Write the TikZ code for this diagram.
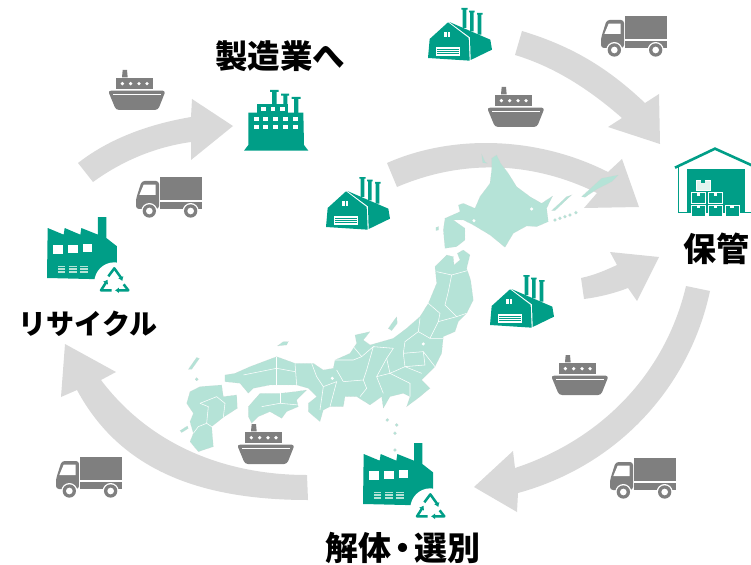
\documentclass[tikz,border=0pt]{standalone}
\usepackage{fontspec}
\usepackage{tikz}
\usetikzlibrary{arrows.meta}
\newfontfamily\jpfont{Noto Sans CJK JP}
\definecolor{iconteal}{HTML}{009E87}
\definecolor{icongrey}{HTML}{7F7F7F}
\definecolor{arrowgrey}{HTML}{D9D9D9}
\definecolor{mapgreen}{HTML}{B5E3D7}
\newcommand\labelfont[1]{\jpfont\bfseries\fontsize{#1}{#1}\selectfont}
\tikzstyle{zoomunit}=[x=0.3333pt,y=-0.3333pt]
\tikzstyle{bigarrow}=[fill=arrowgrey]
\tikzstyle{jplabel}=[inner sep=0pt,text=black]
\tikzstyle{teal}=[fill=iconteal]
\tikzstyle{grey}=[fill=icongrey]
\tikzstyle{hole}=[fill=white]
\tikzstyle{land}=[fill=mapgreen,draw=black!18,line width=0.35pt,densely dotted]
\tikzstyle{border}=[draw=white,line width=0.55pt]
\tikzstyle{recycleline}=[draw=iconteal,line width=2.5pt,line join=round]
\tikzstyle{crate}=[draw=white,fill=iconteal,line width=0.6pt]

\newcommand\drawtruck[2]{
	\begin{scope}[shift={(#1,#2)},zoomunit]
		\fill[grey] (72,0) rectangle (198,70);
		\fill[grey] (72,76) rectangle (198,96);
		\fill[grey,rounded corners=3pt] (0,96) -- (0,66) -- (17,12) -- (69,12) -- (69,96) -- cycle;
		\fill[hole] (23,23) -- (59,23) -- (59,54) -- (10,54) -- cycle;
		\foreach \wheelx in {40,164} {
			\fill[hole] (\wheelx,102) circle (24);
			\fill[grey] (\wheelx,102) circle (20);
			\fill[hole] (\wheelx,102) circle (10);
		}
	\end{scope}
}
\newcommand\drawship[2]{
	\begin{scope}[shift={(#1,#2)},zoomunit]
		\fill[grey] (42,22) -- (44,0) -- (57,0) -- (59,22) -- cycle;
		\fill[grey] (23,24) rectangle (136,56);
		\foreach \portx in {43,68,93,117} {
			\fill[hole] (\portx,41) circle (5.5);
		}
		\fill[grey,rounded corners=3pt] (0,62) -- (173,62) -- (150,120) -- (24,120) -- cycle;
		\fill[hole] (15,71) rectangle (158,74);
	\end{scope}
}
\newcommand\drawhangar[2]{
	\begin{scope}[shift={(#1,#2)},zoomunit]
		\fill[teal] (100,0) -- (119,0) -- (119,5) -- (115,5) -- (115,60) -- (104,60) -- (104,5) -- (100,5) -- cycle;
		\fill[teal] (123,8) -- (140,8) -- (140,13) -- (137,13) -- (137,70) -- (126,70) -- (126,13) -- (123,13) -- cycle;
		\fill[teal] (147,15) -- (164,15) -- (164,20) -- (160,20) -- (160,80) -- (149,80) -- (149,20) -- (147,20) -- cycle;
		\fill[teal] (64,42) -- (187,95) -- (192,125) -- (128,156) -- (126,88) -- cycle;
		\fill[teal] (0,150) -- (5,93) -- (60,43) -- (122,90) -- (125,158) -- cycle;
		\fill[hole] (49,72) rectangle (56,88);
		\fill[hole] (60,72) rectangle (67,88);
		\fill[hole] (25,118) rectangle (95,143);
		\foreach \slaty in {124,130,136} {
			\fill[teal] (27,\slaty) rectangle (93,\slaty+2);
		}
	\end{scope}
}
\newcommand\drawplant[2]{
	\begin{scope}[shift={(#1,#2)},zoomunit]
		\fill[teal] (78,0) -- (104,0) -- (104,6) -- (98,6) -- (98,45) -- (84,45) -- (84,6) -- (78,6) -- cycle;
		\fill[teal] (111,11) -- (135,11) -- (135,17) -- (130,17) -- (130,70) -- (118,70) -- (118,17) -- (111,17) -- cycle;
		\fill[teal] (143,21) -- (170,21) -- (170,27) -- (163,27) -- (163,70) -- (150,70) -- (150,27) -- (143,27) -- cycle;
		\fill[teal] (38,70) -- (38,42) -- (133,42) -- (133,70) -- cycle;
		\fill[teal] (13,68) -- (178,68) -- (180,165) -- (193,182) -- (0,182) -- (13,165) -- cycle;
		\foreach \winx in {30,58,88,118,148} {
			\fill[hole] (\winx,81) rectangle +(14,12);
			\fill[hole] (\winx,105) rectangle +(14,13);
		}
		\foreach \winx in {51,80,108} {
			\fill[hole] (\winx,51) rectangle +(14,12);
		}
	\end{scope}
}
\newcommand\drawsawtooth[2]{
	\begin{scope}[shift={(#1,#2)},zoomunit]
		\fill[teal] (2,33) -- (50,53) -- (53,33) -- (100,53) -- (103,33) -- (153,53) -- (153,0) -- (178,0) -- (178,63) -- (210,88) -- (210,188) -- (0,183) -- cycle;
		\fill[hole] (18,85) rectangle (47,110);
		\fill[hole] (63,83) rectangle (92,108);
		\fill[hole] (107,81) rectangle (136,106);
		\foreach \ventx in {32,66,100} {
			\foreach \venty in {146,154,162} {
				\fill[mapgreen] (\ventx,\venty) rectangle +(23,5);
			}
		}
		\begin{scope}[shift={(202,196)}]
			\fill[hole] (0,0) circle (60);
			\draw[recycleline,-{Latex[length=4pt,width=6pt]}] (-8,24) -- (-40,24) -- (-26,2) -- (-20,-8);
			\draw[recycleline,-{Latex[length=4pt,width=6pt]}] (-18,-18) -- (0,-42) -- (20,-14) -- (24,-4);
			\draw[recycleline,-{Latex[length=4pt,width=6pt]}] (28,6) -- (42,24) -- (18,24) -- (2,24);
		\end{scope}
	\end{scope}
}
\newcommand\drawstorage[2]{
	\begin{scope}[shift={(#1,#2)},zoomunit]
		\draw[iconteal,line width=0.6pt] (25,80) -- (25,216) -- (243,216) -- (243,70);
		\fill[teal] (50,88) rectangle (225,216);
		\draw[iconteal,line width=2.6pt,line join=miter] (15,83) -- (135,26) -- (250,78);
		\draw[crate,fill=mapgreen!40] (78,120) rectangle (122,152);
		\fill[teal] (94,120) rectangle (106,130);
		\foreach \cratex/\cratey in {65/158,115/158,65/195,115/195,165/195} {
			\draw[crate] (\cratex,\cratey) rectangle +(42,33);
			\fill[hole] (\cratex+16,\cratey) rectangle +(10,9);
		}
	\end{scope}
}

\begin{document}
\begin{tikzpicture}[x=1pt,y=-1pt]
	\useasboundingbox (0,0) rectangle (751,564);

	\fill[bigarrow] (78,163) .. controls (110,138) and (150,124) .. (191,117) -- (192,99) -- (233,126) -- (191,160) -- (191,142) .. controls (155,147) and (122,161) .. (93,182) -- cycle;
	\fill[bigarrow] (522,31) .. controls (575,47) and (610,70) .. (645,103) -- (659,94) -- (660,144) -- (608,127) -- (622,118) .. controls (590,90) and (555,67) .. (515,55) -- cycle;
	\fill[bigarrow] (387,163) .. controls (450,135) and (535,135) .. (608,172) -- (622,159) -- (639,207) -- (584,208) -- (597,193) .. controls (530,160) and (460,160) .. (397,187) -- cycle;
	\fill[bigarrow] (581,278) .. controls (595,275) and (606,270) .. (617,265) -- (610,252) -- (659,257) -- (637,301) -- (628,288) .. controls (615,293) and (600,297) .. (584,299) -- cycle;
	\fill[bigarrow] (686,286) .. controls (665,375) and (600,440) .. (515,468) -- (513,451) -- (474,487) -- (517,512) -- (518,493) .. controls (620,465) and (690,385) .. (710,291) -- cycle;
	\fill[bigarrow] (308,500) .. controls (200,500) and (120,470) .. (77,390) -- (61,397) -- (65,344) -- (116,372) -- (101,380) .. controls (150,445) and (225,475) .. (307,475) -- cycle;

	\begin{scope}[shift={(180,140)},zoomunit]
		\draw[land] (935,55) -- (950,45) -- (962,70) -- (985,100) -- (1010,140) -- (1050,170) -- (1085,190) -- (1118,168) -- (1100,205) -- (1105,245) -- (1070,260) -- (1040,258) -- (1000,280) -- (975,322) -- (930,285) -- (880,255) -- (850,240) -- (820,240) -- (855,265) -- (855,300) -- (830,320) -- (795,325) -- (790,270) -- (795,235) -- (840,215) -- (835,195) -- (850,190) -- (885,205) -- (900,170) -- (930,130) -- (935,90) -- cycle;
		\draw[land] (1115,212) -- (1160,170) -- (1175,165) -- (1125,212) -- cycle;
		\draw[land] (1205,170) -- (1265,115) -- (1315,105) -- (1295,125) -- (1250,148) -- (1215,172) -- cycle;
		\draw[land] (800,345) -- (820,350) -- (822,375) -- (840,360) -- (832,340) -- (850,330) -- (870,345) -- (860,385) -- (872,420) -- (880,480) -- (860,520) -- (835,545) -- (825,575) -- (790,590) -- (785,640) -- (765,680) -- (725,720) -- (750,745) -- (720,770) -- (680,800) -- (690,770) -- (670,760) -- (630,770) -- (610,805) -- (605,770) -- (570,795) -- (530,770) -- (495,770) -- (490,800) -- (450,800) -- (430,810) -- (420,845) -- (385,815) -- (385,790) -- (410,770) -- (385,745) -- (350,735) -- (310,735) -- (270,735) -- (220,745) -- (205,760) -- (180,730) -- (135,725) -- (135,705) -- (165,700) -- (210,680) -- (290,650) -- (345,670) -- (400,670) -- (430,690) -- (460,685) -- (465,660) -- (510,640) -- (530,610) -- (525,585) -- (570,575) -- (550,600) -- (570,615) -- (640,595) -- (680,565) -- (720,530) -- (745,490) -- (770,430) -- (765,380) -- cycle;
		\draw[land] (205,800) -- (240,760) -- (300,760) -- (345,755) -- (380,750) -- (350,780) -- (355,800) -- (320,815) -- (305,835) -- (270,815) -- (235,830) -- (215,850) -- (205,830) -- cycle;
		\draw[land] (30,755) -- (60,740) -- (125,735) -- (130,770) -- (170,765) -- (172,805) -- (130,832) -- (95,860) -- (100,920) -- (55,935) -- (30,905) -- (40,880) -- (30,845) -- (40,820) -- (20,790) -- cycle;
		\draw[land] (625,565) -- (650,530) -- (652,550) -- (635,572) -- cycle;
		\draw[land] (25,688) -- (50,652) -- (58,656) -- (35,688) -- cycle;
		\draw[land] (292,618) -- (310,605) -- (325,605) -- (320,615) -- cycle;
		\draw[land] (905,42) -- (915,65) -- (922,70) -- (908,68) -- cycle;
		\draw[land] (768,262) -- (776,260) -- (776,270) -- (768,272) -- cycle;
		\draw[land] (0,872) -- (22,858) -- (25,865) -- (5,878) -- cycle;
		\foreach \isletx/\islety in {1125/240,1140/235,1155/230,1170/225,1188/218,650/855,622/840,645/880,645/930,50/718} {
			\draw[land] (\isletx,\islety) circle (5);
		}
		\foreach \lakex/\lakey in {1055/207,882/242,730/612,457/715} {
			\fill[hole] (\lakex,\lakey) circle (5);
		}
		\draw[border] (770,395) -- (815,405) -- (862,392);
		\draw[border] (815,405) -- (805,455) -- (795,495) -- (830,530) -- (860,520);
		\draw[border] (745,490) -- (780,520) -- (775,545) -- (830,530);
		\draw[border] (775,545) -- (750,595) -- (790,595);
		\draw[border] (720,535) -- (715,575) -- (750,595);
		\draw[border] (715,575) -- (675,605) -- (670,640) -- (730,635) -- (765,680);
		\draw[border] (670,640) -- (675,680) -- (725,700);
		\draw[border] (730,635) -- (735,675) -- (675,680);
		\draw[border] (640,625) -- (580,620);
		\draw[border] (520,620) -- (545,650) -- (580,620) -- (560,690) -- (550,720) -- (560,745) -- (540,770);
		\draw[border] (465,660) -- (520,660) -- (545,650);
		\draw[border] (640,625) -- (620,655) -- (630,700) -- (675,680);
		\draw[border] (620,655) -- (590,710) -- (610,760);
		\draw[border] (630,700) -- (690,730) -- (690,770);
		\draw[border] (590,710) -- (630,700);
		\draw[border] (490,725) -- (550,720);
		\draw[border] (490,725) -- (470,690);
		\draw[border] (290,650) -- (290,735);
		\draw[border] (190,705) -- (240,695) -- (290,685) -- (345,695);
		\draw[border] (345,670) -- (350,735);
		\draw[border] (395,670) -- (410,710) -- (430,740) -- (420,810);
		\draw[border] (430,740) -- (470,725) -- (450,800);
		\draw[border] (245,800) -- (300,790) -- (355,795);
		\draw[border] (300,760) -- (300,790);
		\draw[border] (60,790) -- (110,770) -- (135,790) -- (130,832);
		\draw[border] (60,790) -- (85,800) -- (80,850) -- (95,860);
		\draw[border] (80,850) -- (55,860) -- (40,880);
	\end{scope}

	\drawtruck{136}{177}
	\drawtruck{601}{16}
	\drawtruck{610}{458}
	\drawtruck{56}{457}
	\drawship{108}{70}
	\drawship{487}{87}
	\drawship{551}{355}
	\drawship{237}{424}
	\drawhangar{428}{8}
	\drawhangar{326}{177}
	\drawhangar{490}{275}
	\drawplant{244}{90}
	\drawsawtooth{47}{217}
	\drawsawtooth{363}{443}
	\drawstorage{670}{140}

	\node [jplabel,font=\labelfont{32.5pt}] (manufacturing) at (280,56) {製造業へ};
	\node [jplabel,font=\labelfont{28pt}] (recycling) at (88,324) {リサイクル};
	\node [jplabel,font=\labelfont{33pt}] (storage) at (716,249) {保管};
	\node [jplabel,font=\labelfont{33pt}] (sorting) at (403,548) {解体\hspace{-0.15em}・\hspace{-0.15em}選別};
\end{tikzpicture}
\end{document}
